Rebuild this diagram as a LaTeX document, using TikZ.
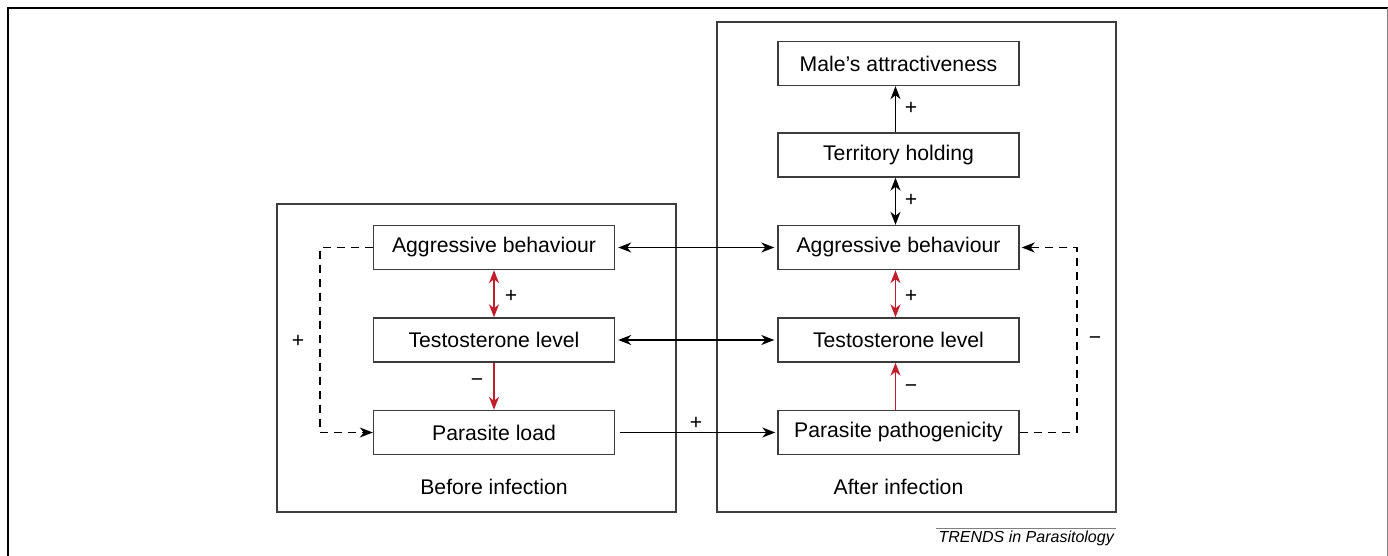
\documentclass[tikz,border=0pt]{standalone}
\usepackage{fontspec}
\setmainfont{Liberation Sans}
\usetikzlibrary{arrows.meta}
\definecolor{linkred}{RGB}{192,30,45}
\definecolor{framegray}{RGB}{60,60,60}
\begin{document}
\begin{tikzpicture}[x=1pt, y=-1pt,
    every node/.style = {font=\fontsize{21.2}{25}\selectfont},
    box/.style = {shape=rectangle, draw=framegray, line width=1.4pt,
      minimum width=241pt, minimum height=44pt, inner sep=0pt},
    sign/.style = {inner sep=0pt},
    link/.style = {line width=1.3pt, -{Stealth[length=13pt, width=10pt, inset=4pt]}},
    dlink/.style = {line width=1.3pt, {Stealth[length=13pt, width=10pt, inset=4pt]}-{Stealth[length=13pt, width=10pt, inset=4pt]}},
    loop/.style = {link, dash pattern=on 8pt off 6pt}]
    \useasboundingbox (0,0) rectangle (1388,556);
    % outer frame
    \draw[line width=1.6pt] (8,556) -- (8,8) -- (1388,8);
    \draw[gray, line width=0.8pt] (1387,8) -- (1387,556);
    % the two panels
    \draw[framegray, line width=1.4pt] (277,204) rectangle (676,512);
    \draw[framegray, line width=1.4pt] (717,22) rectangle (1116,512);
    % before infection
    \node[box] (agL) at (494,247.5) {Aggressive behaviour};
    \node[box] (teL) at (494,340) {Testosterone level};
    \node[box] (paL) at (494,432.5) {Parasite load};
    \node (capL) at (494,487) {Before infection};
    % after infection
    \node[box] (maR) at (898.5,63.5) {Male’s attractiveness};
    \node[box] (trR) at (898.5,155) {Territory holding};
    \node[box] (agR) at (898.5,247.5) {Aggressive behaviour};
    \node[box] (teR) at (898.5,340) {Testosterone level};
    \node[box] (paR) at (898.5,432.5) {Parasite pathogenicity};
    \node (capR) at (898.5,487) {After infection};
    % links inside the left panel
    \draw[dlink, linkred] (agL.south) -- (teL.north);
    \draw[link, linkred] (teL.south) -- (paL.north);
    \draw[loop] (agL.west) -- (320,247.5) -- (320,432.5) -- (paL.west);
    \node[sign] (s1) at (511,296) {+};
    \node[sign] (s2) at (477,383) {−};
    \node[sign] (s3) at (298,341) {+};
    % links across
    \draw[dlink, shorten <=3pt, shorten >=3pt] (agL.east) -- (agR.west);
    \draw[dlink, shorten <=3pt, shorten >=3pt] (teL.east) -- (teR.west);
    \draw[link, shorten <=5pt, shorten >=2pt] (paL.east) -- (paR.west);
    \node[sign] (s4) at (696,423) {+};
    % links inside the right panel
    \draw[link] ([xshift=-3pt]trR.north) -- ([xshift=-3pt]maR.south);
    \draw[dlink] ([xshift=-3pt]agR.north) -- ([xshift=-3pt]trR.south);
    \draw[dlink, linkred] ([xshift=-3pt]teR.north) -- ([xshift=-3pt]agR.south);
    \draw[link, linkred] ([xshift=-3pt]paR.north) -- ([xshift=-3pt]teR.south);
    \draw[loop, shorten >=2pt] (paR.east) -- (1077,432.5) -- (1077,247.5) -- (agR.east);
    \node[sign] (s5) at (911,108) {+};
    \node[sign] (s6) at (911,200) {+};
    \node[sign] (s7) at (911,296) {+};
    \node[sign] (s8) at (911,389) {−};
    \node[sign] (s9) at (1095,341) {−};
    % source line
    \node[anchor=east, inner sep=2pt, font=\fontsize{16}{19}\selectfont\itshape] (trends) at (1116,538) {TRENDS in Parasitology};
    \draw[gray, line width=0.8pt] (trends.north west) -- (trends.north east);
\end{tikzpicture}
\end{document}
